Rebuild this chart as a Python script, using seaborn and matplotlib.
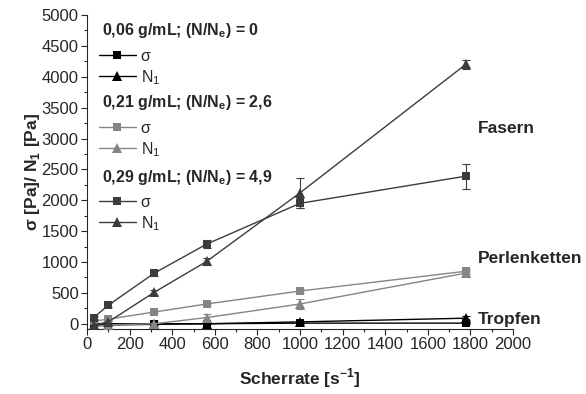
import numpy as np
import pandas as pd
import seaborn as sns
import matplotlib
matplotlib.use("Agg")
import matplotlib.pyplot as plt
from matplotlib.lines import Line2D

sns.set_style("ticks")
plt.rcParams['font.family'] = ['Liberation Sans', 'DejaVu Sans']
plt.rcParams['mathtext.fontset'] = 'custom'
plt.rcParams['mathtext.rm'] = 'Liberation Sans'
plt.rcParams['mathtext.bf'] = 'Liberation Sans:bold'

# Data
shear_rate = [31.6, 100, 316, 562, 1000, 1778]

fas_sigma = [100, 300, 820, 1290, 1950, 2390]
fas_sigma_err = [20, 30, 40, 60, 80, 200]
fas_n1 = [-20, 30, 510, 1010, 2120, 4200]
fas_n1_err = [10, 20, 40, 60, 240, 70]

perl_sigma = [40, 75, 190, 320, 530, 850]
perl_sigma_err = [10, 10, 20, 20, 30, 40]
perl_n1 = [-50, -20, 0, 100, 320, 820]
perl_n1_err = [20, 20, 40, 50, 80, 40]

trop_sigma = [0, 0, 0, 0, 10, 10]
trop_sigma_err = [10, 10, 10, 10, 10, 10]
trop_n1 = [-20, -20, -10, 0, 30, 90]
trop_n1_err = [10, 10, 10, 10, 20, 30]

groups = [
    ("0,06 g/mL; (N/N$_\\mathbf{e}$) = 0", "#000000", trop_sigma, trop_sigma_err, trop_n1, trop_n1_err),
    ("0,21 g/mL; (N/N$_\\mathbf{e}$) = 2,6", "#858585", perl_sigma, perl_sigma_err, perl_n1, perl_n1_err),
    ("0,29 g/mL; (N/N$_\\mathbf{e}$) = 4,9", "#3c3c3c", fas_sigma, fas_sigma_err, fas_n1, fas_n1_err),
]
regime_labels = ["Fasern", "Perlenketten", "Tropfen"]
regime_y = [3170, 1060, 65]

fig = plt.figure(figsize=(5.86, 3.94), dpi=100)
ax = fig.add_axes([87/586, 1-329/394, (513-87)/586, (329-15)/394])

for title, col, s, se, n, ne in groups:
    df_s = pd.DataFrame({"x": shear_rate, "y": s})
    df_n = pd.DataFrame({"x": shear_rate, "y": n})
    ax.errorbar(shear_rate, s, yerr=se, fmt='none', ecolor=col, elinewidth=0.8, capsize=3, capthick=0.8, zorder=2)
    ax.errorbar(shear_rate, n, yerr=ne, fmt='none', ecolor=col, elinewidth=0.8, capsize=3, capthick=0.8, zorder=2)
    sns.lineplot(data=df_s, x="x", y="y", ax=ax, color=col, marker='s', markersize=6,
                 markeredgewidth=0, linewidth=1.0, zorder=3)
    sns.lineplot(data=df_n, x="x", y="y", ax=ax, color=col, marker='^', markersize=7,
                 markeredgewidth=0, linewidth=1.0, zorder=3)

ax.set_xlim(0, 2000)
ax.set_ylim(-85, 5000)
ax.set_xticks(np.arange(0, 2001, 200))
ax.set_yticks(np.arange(0, 5001, 500))
ax.set_xticks(np.arange(0, 2001, 100), minor=True)
ax.set_yticks(np.arange(0, 5001, 250), minor=True)
ax.tick_params(axis='both', which='major', labelsize=12, length=4, width=0.8, direction='out', pad=2)
ax.tick_params(axis='both', which='minor', length=2.5, width=0.8, direction='out')
sns.despine(ax=ax)
for sp in ax.spines.values():
    sp.set_linewidth(0.8)

ax.set_xlabel("Scherrate [s$^{\\mathbf{-1}}$]", fontsize=12.5, fontweight='bold', labelpad=10)
ax.set_ylabel("σ [Pa]/ N$_\\mathbf{1}$ [Pa]", fontsize=12.5, fontweight='bold', labelpad=0)

for lab, yv in zip(regime_labels, regime_y):
    ax.text(1835, yv, lab, fontsize=12.5, fontweight='bold', ha='left', va='center')

title_y = [30, 103, 177]
entry_top = [49, 121, 195]
for (title, col, *_), ty, et in zip(groups, title_y, entry_top):
    fig.text(102/586, 1-ty/394, title, fontsize=11.5, fontweight='bold', ha='left', va='center')
    h1 = Line2D([], [], color=col, marker='s', markersize=5.5, markeredgewidth=0, linewidth=1.0)
    h2 = Line2D([], [], color=col, marker='^', markersize=6.5, markeredgewidth=0, linewidth=1.0)
    fig.legend([h1, h2], ["σ", "N$_1$"], loc='upper left',
               bbox_to_anchor=(99/586, 1-et/394), frameon=False, fontsize=11.5,
               handlelength=2.3, handletextpad=0.3, labelspacing=0.25,
               borderpad=0, borderaxespad=0, numpoints=1)

fig.savefig("out.png", dpi=100)
